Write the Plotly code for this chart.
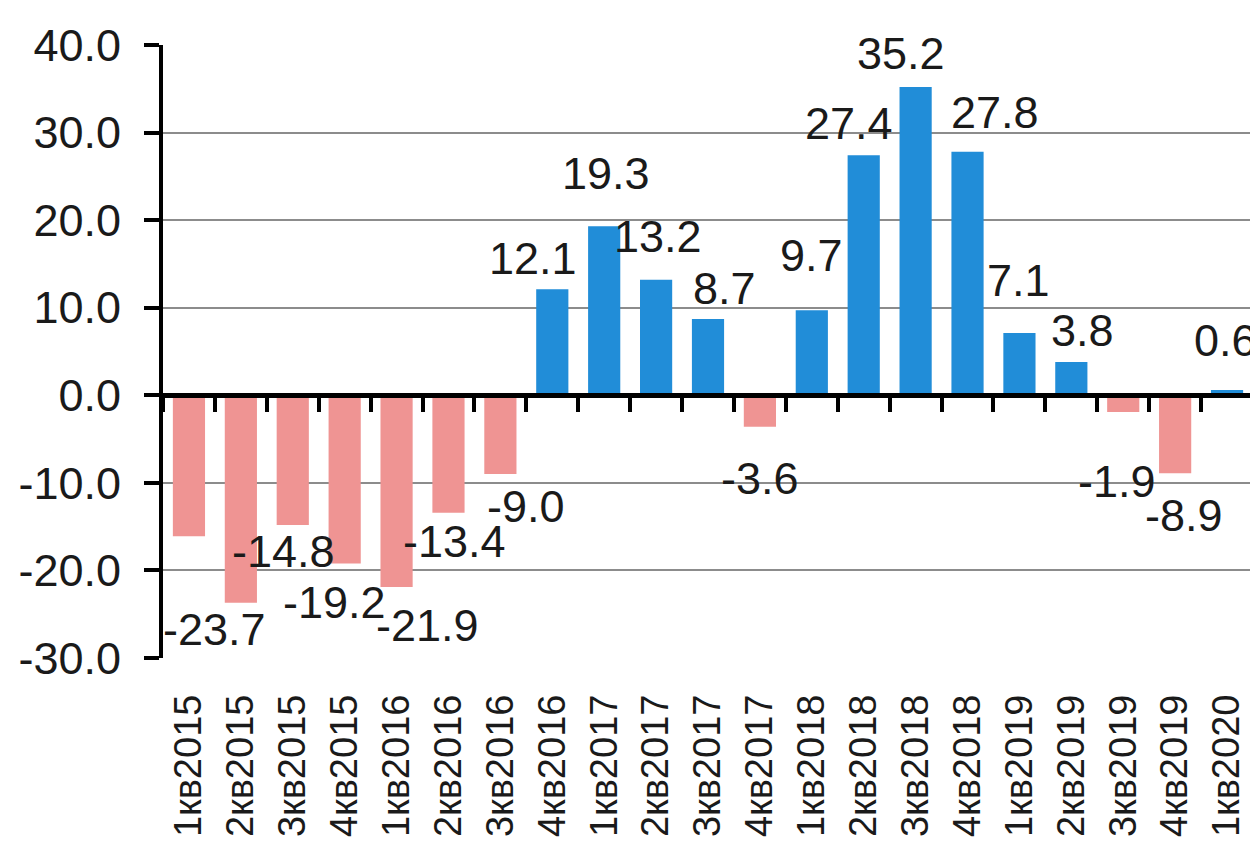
import plotly.graph_objects as go

# данные
QUARTERS = [
    "1кв2015", "2кв2015", "3кв2015", "4кв2015",
    "1кв2016", "2кв2016", "3кв2016", "4кв2016",
    "1кв2017", "2кв2017", "3кв2017", "4кв2017",
    "1кв2018", "2кв2018", "3кв2018", "4кв2018",
    "1кв2019", "2кв2019", "3кв2019", "4кв2019",
    "1кв2020",
]
VALUES = [
    -16.1, -23.7, -14.8, -19.2,
    -21.9, -13.4, -9.0, 12.1,
    19.3, 13.2, 8.7, -3.6,
    9.7, 27.4, 35.2, 27.8,
    7.1, 3.8, -1.9, -8.9,
    0.6,
]
SHOW_LABEL = [False] + [True] * 20
Y_TICKS = [-30, -20, -10, 0, 10, 20, 30, 40]

# смещения подписей (px), как в исходной картинке
LABEL_DX = [0, -26, -9, -10, 31, 6, 26, -19, 2, 2, 16, 0, 0, -15, -15, 27, -1, 11, -6, 9, -2]
LABEL_DY = [0, -27, -27, -39, -38, -29, -32, 31, 53, 43, 31, -52, 55, 32, 34, 39, 53, 32, -70, -42, 50]

POS_COLOR = "#218DD8"
NEG_COLOR = "#EF9493"
FONT = "Liberation Sans, Arial, sans-serif"
TXT = "#1a1a1a"

colors = [POS_COLOR if v >= 0 else NEG_COLOR for v in VALUES]

fig = go.Figure()
fig.add_trace(go.Bar(
    x=QUARTERS, y=VALUES,
    marker=dict(color=colors, line=dict(width=0)),
    hoverinfo="skip",
    showlegend=False,
))
# невидимый ряд для оси с делениями на нуле
fig.add_trace(go.Scatter(
    x=QUARTERS, y=VALUES, xaxis="x2",
    mode="markers", marker=dict(opacity=0),
    hoverinfo="skip", showlegend=False,
))

for q, v, show, dx, dy in zip(QUARTERS, VALUES, SHOW_LABEL, LABEL_DX, LABEL_DY):
    if not show:
        continue
    fig.add_annotation(
        x=q, y=v, text=f"{v:.1f}", showarrow=False,
        xanchor="center", yanchor="middle",
        xshift=dx, yshift=dy,
        font=dict(family=FONT, size=45, color=TXT),
    )

# страница имеет отступ 8px, поэтому фигура чуть меньше окна
fig.update_layout(
    width=1250, height=842,
    margin=dict(l=155, r=5, t=37, b=192),
    paper_bgcolor="white",
    plot_bgcolor="white",
    bargap=0.38,
    xaxis=dict(
        type="category",
        range=[-0.5, len(QUARTERS) - 0.5],
        automargin=False,
        showgrid=False, showline=False, ticks="",
        tickangle=-90,
        ticklabelstandoff=28,
        tickfont=dict(family=FONT, size=38, color=TXT),
    ),
    xaxis2=dict(
        type="category",
        overlaying="x", anchor="free",
        position=30 / 70,
        range=[-0.5, len(QUARTERS) - 0.5],
        automargin=False,
        showgrid=False,
        showline=True, linecolor="black", linewidth=5,
        ticks="outside", tickson="boundaries",
        ticklen=14, tickwidth=4, tickcolor="black",
        showticklabels=False,
    ),
    yaxis=dict(
        range=[-30, 40],
        tickvals=Y_TICKS,
        ticktext=[f"{t:.1f}" for t in Y_TICKS],
        automargin=False,
        showgrid=True, gridcolor="#8c8c8c", gridwidth=2,
        zeroline=False,
        showline=True, linecolor="black", linewidth=4,
        ticks="outside", ticklen=15, tickwidth=4, tickcolor="black",
        ticklabelstandoff=14,
        tickfont=dict(family=FONT, size=45, color=TXT),
    ),
)

fig.write_html("out.html")
